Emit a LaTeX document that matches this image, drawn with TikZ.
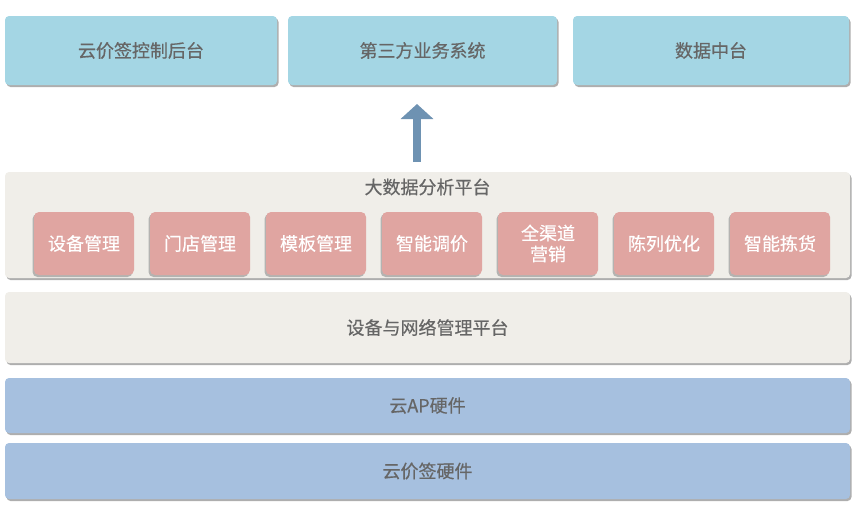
\documentclass[tikz,border=0pt]{standalone}
\usepackage{fontspec}
\newfontfamily\cjk[FakeBold=0.5]{Noto Sans CJK SC}
\usetikzlibrary{positioning}
\usetikzlibrary{shadows}
\usetikzlibrary{arrows.meta}
\definecolor{appblue}{HTML}{A4D6E4}
\definecolor{platgray}{HTML}{F0EEE9}
\definecolor{modpink}{HTML}{E0A5A1}
\definecolor{hwblue}{HTML}{A6C0DF}
\definecolor{arrowblue}{HTML}{6E92B2}
\definecolor{labelgray}{HTML}{666666}

\begin{document}
\begin{tikzpicture}
    [
    x=1pt, y=1pt,
    node distance=116pt and 116pt,
    on grid,
    every node/.style={font=\cjk\fontsize{18}{21}\selectfont},
    app/.style={rectangle, rounded corners=4pt, fill=appblue, text=labelgray, minimum height=69pt,
        drop shadow={shadow xshift=1.5pt, shadow yshift=-2pt, fill=black!45, opacity=.7}},
    platform/.style={rectangle, rounded corners=4pt, fill=platgray, text=labelgray, minimum width=845pt,
        drop shadow={shadow xshift=1.5pt, shadow yshift=-2pt, fill=black!45, opacity=.7}},
    module/.style={rectangle, rounded corners=5pt, fill=modpink, text=white, minimum width=100pt,
        minimum height=63pt, align=center,
        drop shadow={shadow xshift=-1.5pt, shadow yshift=-2pt, fill=black!45, opacity=.6}},
    hardware/.style={rectangle, rounded corners=4pt, fill=hwblue, text=labelgray, minimum width=845pt,
        drop shadow={shadow xshift=1.5pt, shadow yshift=-2pt, fill=black!45, opacity=.7}},
    uparrow/.style={-{Triangle[width=32pt, length=15pt]}, line width=8pt, draw=arrowblue},
    ]

    \useasboundingbox (0,0) rectangle (862,-509);

    % top row
    \node[app, minimum width=272pt] (app_console) at (141,-50.5) {云价签控制后台};
    \node[app, minimum width=269pt] (app_third) at (422.5,-50.5) {第三方业务系统};
    \node[app, minimum width=276pt] (app_data) at (711,-50.5) {数据中台};

    \coordinate (arrow_tail) at (417,-162);
    \coordinate (arrow_tip) at (417,-104);
    \draw[uparrow] (arrow_tail) -- (arrow_tip);

    % big data platform
    \node[platform, minimum height=106pt] (plat_bigdata) at (427.5,-225) {};
    \node[text=labelgray] (title_bigdata) at (427.5,-187) {大数据分析平台};

    \node[module] (mod_device) at (84,-243.5) {设备管理};
    \node[module, right = of mod_device] (mod_store) {门店管理};
    \node[module, right = of mod_store] (mod_template) {模板管理};
    \node[module, right = of mod_template] (mod_pricing) {智能调价};
    \node[module, right = of mod_pricing] (mod_channel) {全渠道\\营销};
    \node[module, right = of mod_channel] (mod_display) {陈列优化};
    \node[module, right = of mod_display] (mod_picking) {智能拣货};

    % lower layers
    \node[platform, minimum height=71pt, below = 102.5pt of plat_bigdata] (plat_network) {设备与网络管理平台};
    \node[hardware, minimum height=55pt, below = 78pt of plat_network] (hw_ap) {云AP硬件};
    \node[hardware, minimum height=56pt, below = 65.5pt of hw_ap] (hw_label) {云价签硬件};
\end{tikzpicture}
\end{document}
